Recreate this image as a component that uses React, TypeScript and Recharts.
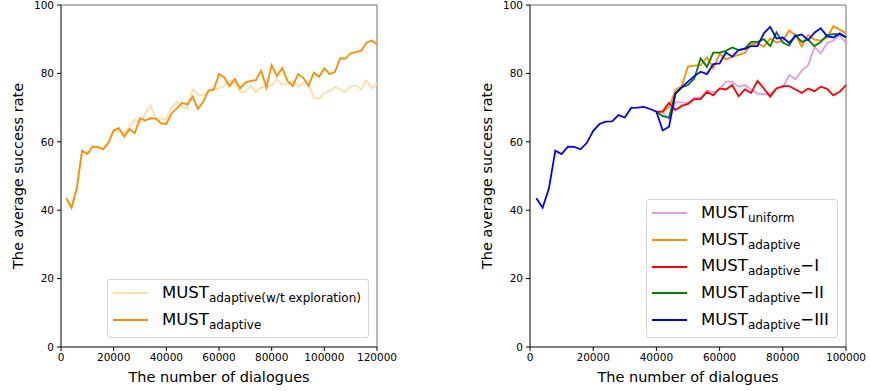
import React from 'react';
import { LineChart, Line, XAxis, YAxis, ReferenceLine } from 'recharts';

// left panel: 2000 .. 120000 dialogues
const leftSteps = [
  2000, 4000, 6000, 8000, 10000, 12000, 14000, 16000, 18000, 20000,
  22000, 24000, 26000, 28000, 30000, 32000, 34000, 36000, 38000, 40000,
  42000, 44000, 46000, 48000, 50000, 52000, 54000, 56000, 58000, 60000,
  62000, 64000, 66000, 68000, 70000, 72000, 74000, 76000, 78000, 80000,
  82000, 84000, 86000, 88000, 90000, 92000, 94000, 96000, 98000, 100000,
  102000, 104000, 106000, 108000, 110000, 112000, 114000, 116000, 118000, 120000,
];
const adaptiveLeft = [
  43.5, 40.7, 46.4, 57.4, 56.4, 58.6, 58.5, 57.8, 59.7, 63.3,
  64.0, 61.5, 63.7, 62.5, 66.9, 66.2, 66.9, 66.8, 65.4, 65.2,
  68.3, 69.8, 71.4, 70.9, 73.2, 69.6, 71.7, 74.9, 75.3, 79.8,
  78.8, 76.3, 78.4, 75.6, 77.3, 77.8, 78.0, 80.8, 75.9, 82.4,
  79.2, 81.6, 77.8, 76.3, 79.8, 78.7, 76.4, 80.2, 79.0, 81.5,
  79.8, 80.4, 84.4, 84.3, 85.9, 86.2, 86.6, 89.0, 89.6, 88.5,
];
const noExploration = [
  43.5, 40.7, 46.4, 57.4, 56.4, 58.6, 58.5, 57.8, 59.7, 63.3,
  63.0, 62.5, 64.4, 66.6, 65.6, 68.3, 70.5, 66.8, 66.8, 66.6,
  70.0, 71.7, 70.2, 69.7, 75.3, 73.8, 73.5, 74.9, 75.3, 75.6,
  76.3, 77.8, 77.3, 74.6, 74.6, 76.4, 74.6, 76.1, 75.9, 76.6,
  78.3, 76.6, 77.1, 77.6, 76.1, 77.3, 76.6, 72.9, 72.7, 74.2,
  74.9, 76.1, 75.3, 74.5, 76.3, 76.5, 75.3, 78.0, 75.6, 77.1,
];

// right panel: 2000 .. 100000 dialogues, variants branch off at 40000
const rightSteps = leftSteps.slice(0, 50);
const variantStart = 40000;
const adaptiveIII = [
  43.5, 40.7, 46.4, 57.4, 56.4, 58.6, 58.5, 57.8, 59.7, 63.2,
  65.2, 65.9, 66.0, 67.8, 67.1, 69.9, 70.0, 70.2, 69.6, 68.8,
  63.3, 64.4, 74.0, 75.9, 77.6, 79.2, 80.5, 79.8, 82.7, 82.9,
  86.1, 84.9, 86.8, 87.2, 88.0, 88.0, 91.7, 93.6, 90.2, 90.5,
  88.9, 90.9, 91.4, 89.7, 91.9, 93.2, 90.9, 90.5, 91.7, 90.5,
];
const uniform = [
  68.8, 68.5, 66.5, 71.5, 71.5, 71.2, 72.9, 72.9, 75.0, 74.5, 75.3,
  77.6, 77.6, 76.1, 76.6, 75.3, 74.1, 73.9, 73.9, 75.6, 75.9,
  79.5, 78.3, 80.8, 82.4, 87.8, 85.8, 88.8, 89.6, 91.2, 88.8,
];
const adaptiveRight = [
  68.8, 68.7, 70.1, 75.1, 76.3, 82.0, 82.3, 82.4, 84.7, 81.5, 85.8,
  84.1, 84.8, 85.4, 86.0, 88.5, 88.8, 87.8, 90.2, 89.0, 89.6,
  92.5, 91.2, 87.8, 91.2, 89.9, 89.6, 90.5, 93.8, 92.8, 91.7,
];
const adaptiveI = [
  68.8, 68.9, 71.4, 69.3, 70.5, 71.1, 72.5, 72.5, 74.6, 73.6, 75.6,
  75.3, 76.6, 73.3, 75.3, 74.3, 77.8, 75.6, 73.2, 75.6, 76.3,
  76.3, 75.3, 74.3, 75.6, 74.8, 76.1, 75.5, 73.6, 74.6, 76.6,
];
const adaptiveII = [
  68.8, 67.5, 67.1, 74.1, 75.9, 76.6, 78.5, 84.4, 81.9, 86.1, 86.1,
  86.6, 87.6, 86.8, 87.3, 89.2, 89.2, 90.0, 88.0, 92.0, 89.0,
  88.1, 91.2, 89.2, 89.9, 88.0, 89.2, 91.2, 91.5, 91.5, 90.7,
];

const yTicks = [0, 20, 40, 60, 80, 100];
const leftXTicks = [0, 20000, 40000, 60000, 80000, 100000, 120000];
const rightXTicks = [0, 20000, 40000, 60000, 80000, 100000];

const leftData = leftSteps.map((x, i) => ({
  x,
  noExpl: noExploration[i],
  adaptive: adaptiveLeft[i],
}));

const rightData = rightSteps.map((x, i) => {
  const j = i - rightSteps.indexOf(variantStart);
  const v = (arr: number[]) => (j >= 0 ? arr[j] : undefined);
  return {
    x,
    uniform: v(uniform),
    adaptive: v(adaptiveRight),
    adI: v(adaptiveI),
    adII: v(adaptiveII),
    adIII: adaptiveIII[i],
  };
});

const leftSeries = [
  { key: 'noExpl', sub: 'adaptive(w/t exploration)', tail: '', color: '#ffdca8' },
  { key: 'adaptive', sub: 'adaptive', tail: '', color: '#ff8c00' },
];
const rightSeries = [
  { key: 'uniform', sub: 'uniform', tail: '', color: '#dda0dd' },
  { key: 'adaptive', sub: 'adaptive', tail: '', color: '#ff8c00' },
  { key: 'adI', sub: 'adaptive', tail: '\u2212I', color: '#ff0000' },
  { key: 'adII', sub: 'adaptive', tail: '\u2212II', color: '#008000' },
  { key: 'adIII', sub: 'adaptive', tail: '\u2212III', color: '#0000ff' },
];

const FONT = '"DejaVu Sans", sans-serif';
const tickStyle = { fontSize: 10.5, fill: '#000', fontFamily: FONT };

const yLabel = (props: any) => {
  const vb = props.viewBox;
  const cx = vb.x + 17;
  const cy = vb.y + vb.height / 2;
  return (
    <text x={cx} y={cy} transform={`rotate(-90 ${cx} ${cy})`} textAnchor="middle"
      dominantBaseline="central" fontSize={14.5} fontFamily={FONT} fill="#000">
      The average success rate
    </text>
  );
};

const xLabel = (props: any) => {
  const vb = props.viewBox;
  return (
    <text x={vb.x + vb.width / 2} y={vb.y + 35} textAnchor="middle"
      fontSize={14.5} fontFamily={FONT} fill="#000">
      The number of dialogues
    </text>
  );
};

type Entry = { key: string; sub: string; tail: string; color: string };

const LegendBox = ({ items, left, top, width }: { items: Entry[]; left: number; top: number; width: number }) => (
  <div style={{
    position: 'absolute', left, top, width, boxSizing: 'border-box',
    border: '1px solid #d6d6d6', borderRadius: 3, background: 'rgba(255,255,255,0.8)',
    paddingTop: 0, paddingBottom: 4, fontFamily: FONT,
  }}>
    {items.map(s => (
      <div key={s.key} style={{ height: 26.7, display: 'flex', alignItems: 'center' }}>
        <div style={{ marginLeft: 5, width: 35, height: 2, background: s.color }} />
        <span style={{ marginLeft: 14, fontSize: 16.5, lineHeight: 1, whiteSpace: 'nowrap', color: '#000' }}>
          MUST
          <span style={{ fontSize: 12, position: 'relative', top: 4 }}>{s.sub}</span>
          {s.tail}
        </span>
      </div>
    ))}
  </div>
);

export default function App() {
  return (
    <div style={{ position: 'absolute', left: 0, top: 0, width: 870, height: 391, background: '#fff' }}>
      <div style={{ position: 'absolute', left: 0, top: 0 }}>
        <LineChart width={435} height={391} data={leftData} margin={{ top: 5, right: 58, bottom: 4, left: 1 }}>
          <XAxis dataKey="x" type="number" domain={[0, 120000]} ticks={leftXTicks} interval={0}
            tick={tickStyle} tickSize={4} tickMargin={3} stroke="#000" height={40} label={xLabel} />
          <YAxis type="number" domain={[0, 100]} ticks={yTicks} interval={0} width={60}
            tick={tickStyle} tickSize={4} tickMargin={3} stroke="#000" label={yLabel} />
          <ReferenceLine y={100} stroke="#6e6e6e" strokeWidth={1} />
          <ReferenceLine x={120000} stroke="#6e6e6e" strokeWidth={1} />
          {leftSeries.map(s => (
            <Line key={s.key} dataKey={s.key} stroke={s.color} strokeWidth={1.8} dot={false}
              isAnimationActive={false} />
          ))}
        </LineChart>
      </div>
      <div style={{ position: 'absolute', left: 469, top: 0 }}>
        <LineChart width={401} height={391} data={rightData} margin={{ top: 5, right: 24, bottom: 4, left: 1 }}>
          <XAxis dataKey="x" type="number" domain={[0, 100000]} ticks={rightXTicks} interval={0}
            tick={tickStyle} tickSize={4} tickMargin={3} stroke="#000" height={40} label={xLabel} />
          <YAxis type="number" domain={[0, 100]} ticks={yTicks} interval={0} width={60}
            tick={tickStyle} tickSize={4} tickMargin={3} stroke="#000" label={yLabel} />
          <ReferenceLine y={100} stroke="#6e6e6e" strokeWidth={1} />
          <ReferenceLine x={100000} stroke="#6e6e6e" strokeWidth={1} />
          {rightSeries.map(s => (
            <Line key={s.key} dataKey={s.key} stroke={s.color} strokeWidth={1.8} dot={false}
              isAnimationActive={false} />
          ))}
        </LineChart>
      </div>
      <LegendBox items={leftSeries} left={107} top={279} width={262} />
      <LegendBox items={rightSeries} left={646} top={199} width={192} />
    </div>
  );
}
